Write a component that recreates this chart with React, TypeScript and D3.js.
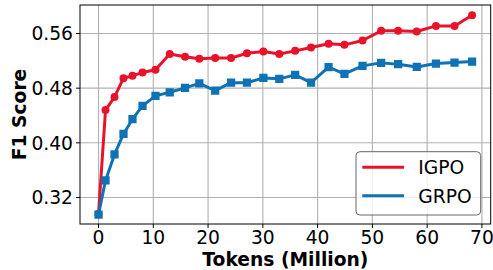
import React from "react";
import * as d3 from "d3";

const tokens = [0, 1.28, 2.92, 4.56, 6.2, 8.03, 10.4, 13.0, 15.8, 18.4, 21.3, 24.2, 27.1, 30.1, 33.0, 35.9, 38.8, 42.0, 44.9, 48.2, 51.6, 54.7, 58.1, 61.6, 65.0, 68.2];
const igpo = [0.296, 0.448, 0.467, 0.4946, 0.498, 0.503, 0.507, 0.530, 0.526, 0.523, 0.524, 0.524, 0.531, 0.5336, 0.530, 0.5346, 0.5394, 0.5449, 0.5434, 0.5497, 0.5639, 0.5639, 0.563, 0.5711, 0.571, 0.5867];
const grpo = [0.295, 0.345, 0.383, 0.413, 0.4346, 0.454, 0.4687, 0.474, 0.4804, 0.487, 0.4765, 0.488, 0.488, 0.495, 0.4936, 0.4995, 0.488, 0.5107, 0.501, 0.5126, 0.517, 0.515, 0.511, 0.516, 0.5175, 0.519];
const xTicks = [0, 10, 20, 30, 40, 50, 60, 70];
const yTicks = [0.32, 0.4, 0.48, 0.56];
const seriesNames = ["IGPO", "GRPO"];

const W = 493, H = 270;
const L = 80, R = 490.7, T = 5, B = 224;
const RED = "#e8132b";
const BLUE = "#0e72b5";
const FONT = "DejaVu Sans, sans-serif";
const FS = 18.7;

export default function App() {
  const x = d3.scaleLinear().domain([-3.38, 71.6]).range([L, R]);
  const y = d3.scaleLinear().domain([0.2812, 0.6017]).range([B, T]);
  const line = d3.line<number>().x((_, i) => x(tokens[i])).y((d) => y(d));
  const sym = d3.symbol().type(d3.symbolSquare).size(68);

  return (
    <svg width={W} height={H} style={{ position: "absolute", left: 0, top: 0 }} fontFamily={FONT}>
      <rect x={0} y={0} width={W} height={H} fill="white" />
      <clipPath id="clip"><rect x={L} y={T} width={R - L} height={B - T} /></clipPath>
      {xTicks.map((t) => (
        <line key={"gx" + t} x1={x(t)} x2={x(t)} y1={T} y2={B} stroke="#b0b0b0" strokeWidth={1.1} />
      ))}
      {yTicks.map((t) => (
        <line key={"gy" + t} x1={L} x2={R} y1={y(t)} y2={y(t)} stroke="#b0b0b0" strokeWidth={1.1} />
      ))}
      <g clipPath="url(#clip)">
        <path d={line(igpo) || ""} fill="none" stroke={RED} strokeWidth={3} strokeLinejoin="round" />
        {igpo.map((v, i) => (
          <circle key={"im" + i} cx={x(tokens[i])} cy={y(v)} r={4} fill={RED} />
        ))}
        <path d={line(grpo) || ""} fill="none" stroke={BLUE} strokeWidth={3} strokeLinejoin="round" />
        {grpo.map((v, i) => (
          <path key={"gm" + i} d={sym() || ""} transform={`translate(${x(tokens[i])},${y(v)})`} fill={BLUE} />
        ))}
      </g>
      <rect x={L} y={T} width={R - L} height={B - T} fill="none" stroke="black" strokeWidth={1} />
      {xTicks.map((t) => (
        <g key={"xt" + t}>
          <line x1={x(t)} x2={x(t)} y1={B} y2={B + 4} stroke="black" strokeWidth={1} />
          <text x={x(t)} y={B + 20} fontSize={FS} textAnchor="middle" fill="black">{t}</text>
        </g>
      ))}
      {yTicks.map((t) => (
        <g key={"yt" + t}>
          <line x1={L - 4} x2={L} y1={y(t)} y2={y(t)} stroke="black" strokeWidth={1} />
          <text x={L - 7} y={y(t) + 6.8} fontSize={FS} textAnchor="end" fill="black">{t.toFixed(2)}</text>
        </g>
      ))}
      <text x={(L + R) / 2} y={265.5} fontSize={FS} fontWeight="bold" textAnchor="middle">Tokens (Million)</text>
      <text transform={`translate(25.5,${(T + B) / 2}) rotate(-90)`} fontSize={FS} fontWeight="bold" textAnchor="middle">F1 Score</text>
      <g>
        <rect x={356} y={151.7} width={124.7} height={63.3} rx={4} fill="white" fillOpacity={0.8} stroke="#666" strokeWidth={1} />
        {seriesNames.map((n, i) => (
          <g key={n}>
            <line x1={362.3} x2={404} y1={167.3 + i * 28.4} y2={167.3 + i * 28.4} stroke={i === 0 ? RED : BLUE} strokeWidth={3} />
            <text x={418.3} y={167.3 + i * 28.4 + 7} fontSize={FS} fill="black">{n}</text>
          </g>
        ))}
      </g>
    </svg>
  );
}
